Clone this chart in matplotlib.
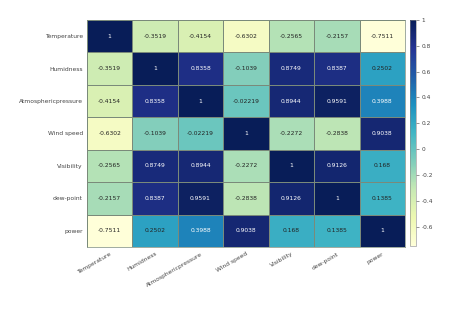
import matplotlib
matplotlib.use("Agg")
import matplotlib.pyplot as plt
import numpy as np

labels = ["Temperature", "Humidness", "Atmosphericpressure", "Wind speed",
          "Visibility", "dew-point", "power"]

corr = np.array([
    [1, -0.3519, -0.4154, -0.6302, -0.2565, -0.2157, -0.7511],
    [-0.3519, 1, 0.8358, -0.1039, 0.8749, 0.8387, 0.2502],
    [-0.4154, 0.8358, 1, -0.02219, 0.8944, 0.9591, 0.3988],
    [-0.6302, -0.1039, -0.02219, 1, -0.2272, -0.2838, 0.9038],
    [-0.2565, 0.8749, 0.8944, -0.2272, 1, 0.9126, 0.168],
    [-0.2157, 0.8387, 0.9591, -0.2838, 0.9126, 1, 0.1385],
    [-0.7511, 0.2502, 0.3988, 0.9038, 0.168, 0.1385, 1],
])

cbar_ticks = [-0.6, -0.4, -0.2, 0, 0.2, 0.4, 0.6, 0.8, 1]

fig = plt.figure(figsize=(4.54, 3.12), dpi=100)
ax = fig.add_axes([0.1916, 0.2083, 0.7004, 0.7277])
cax = fig.add_axes([0.903, 0.2115, 0.013, 0.7245])

n = len(labels)
mesh = ax.pcolormesh(np.arange(n + 1), np.arange(n + 1), corr, cmap="YlGnBu",
                     vmin=corr.min(), vmax=1, edgecolors="#7a8a7a", linewidth=0.5)
ax.set_xlim(0, n)
ax.set_ylim(n, 0)

for i in range(n):
    for j in range(n):
        v = corr[i, j]
        ax.text(j + 0.5, i + 0.5, f"{v:.4g}", ha="center", va="center",
                fontsize=4.3, color="white" if v > 0.3 else "#222222")

ax.set_xticks(np.arange(n) + 0.5)
ax.set_yticks(np.arange(n) + 0.5)
ax.set_xticklabels(labels, rotation=30, ha="right", rotation_mode="anchor",
                   fontsize=4.3, color="#444444")
ax.set_yticklabels(labels, fontsize=4.3, color="#444444")
ax.tick_params(length=0, pad=3)
for s in ax.spines.values():
    s.set_color("#7a8a7a")
    s.set_linewidth(0.5)

cb = fig.colorbar(mesh, cax=cax, ticks=cbar_ticks)
cb.ax.set_yticklabels([f"{t:g}" for t in cbar_ticks])
cb.ax.tick_params(labelsize=4.2, length=2, width=0.4, colors="#444444", pad=2)
cb.outline.set_linewidth(0.4)
cb.outline.set_edgecolor("#888888")

fig.savefig("out.png", dpi=100)
